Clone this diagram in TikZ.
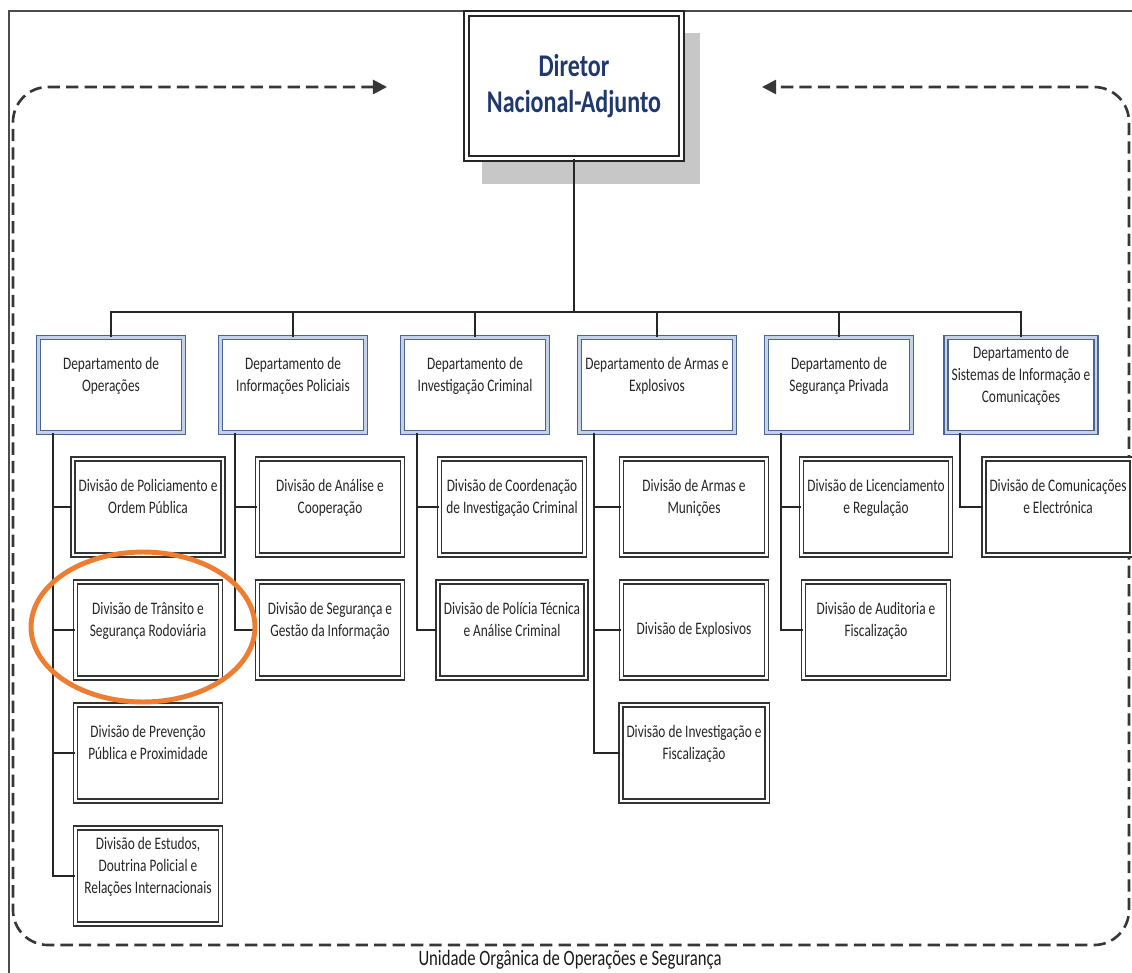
\documentclass[tikz,border=0pt]{standalone}
\usepackage{fontspec}
\setmainfont{Carlito}[FakeStretch=0.76]
\usetikzlibrary{arrows.meta}

\definecolor{navytext}{RGB}{31,56,110}
\definecolor{deptline}{RGB}{75,100,145}
\definecolor{deptgap}{RGB}{195,210,232}
\definecolor{ringorange}{RGB}{237,125,49}
\definecolor{unitgray}{RGB}{55,55,55}

% empty last line, lifts the text as in the chart
\newcommand{\padline}{\\\mbox{}}

\tikzset{
  dirbox/.style={draw=black!85,double=white,line width=1.1pt,double distance=1.3pt,
    fill=white,minimum width=4.3cm,minimum height=2.9cm,align=center,
    text=navytext,font=\fontsize{18}{20.5}\selectfont\bfseries},
  deptbox/.style={draw=deptline,double=deptgap,line width=1pt,double distance=1.3pt,
    fill=white,minimum width=2.9cm,minimum height=1.9cm,align=center,
    text=black!85,font=\fontsize{10}{12.5}\selectfont},
  divbox/.style={draw=black!80,double=white,line width=1pt,double distance=1.3pt,
    fill=white,minimum width=2.9cm,minimum height=1.92cm,align=center,
    text=black!85,font=\fontsize{10}{12.5}\selectfont},
  link/.style={draw=black!85,line width=1pt},
  unitline/.style={draw=unitgray,line width=1.5pt,dash pattern=on 7pt off 3.5pt,
    rounded corners=0.7cm}
}

\begin{document}
\begin{tikzpicture}[x=0.02cm,y=-0.02cm]
	\useasboundingbox (0,0) rectangle (1132,973);
	
	% frame
	\draw[black!70,line width=0.6pt] (1132,11) -- (9,11) -- (9,973);
	
	% unit contour
	\draw[unitline,{Triangle[length=8pt,width=8pt]}-{Triangle[length=8pt,width=8pt]}]
	(387,87) -- (13,87) -- (13,945) -- (1129,945) -- (1129,87) -- (762,87);
	\node[font=\fontsize{12.5}{14}\selectfont,text=black!90] (unitlbl) at (570,960)
	{Unidade Orgânica de Operações e Segurança};
	
	% director
	\fill[black!22] (482,33) rectangle (700,184);
	\node[dirbox] (dir) at (574,86) {Diretor\\Nacional-Adjunto};
	
	% departments
	\node[deptbox] (dOps) at (111,385) {Departamento de\\Operações\padline};
	\node[deptbox] (dInf) at (293,385) {Departamento de\\Informações Policiais\padline};
	\node[deptbox] (dInv) at (475,385) {Departamento de\\Investigação Criminal\padline};
	\node[deptbox] (dArm) at (657,385) {Departamento de Armas e\\Explosivos\padline};
	\node[deptbox] (dSeg) at (839,385) {Departamento de\\Segurança Privada\padline};
	\node[deptbox] (dSis) at (1021,385) {Departamento de\\Sistemas de Informação e\\Comunicações\padline};
	
	\coordinate (bus) at (574,312);
	\draw[link] (dir.south) -- (bus);
	\draw[link] (dOps.north) -- (dOps.north |- bus) -- (dSis.north |- bus) -- (dSis.north);
	\foreach \d in {dInf,dInv,dArm,dSeg}
	\draw[link] (\d.north) -- (\d.north |- bus);
	
	% divisions
	\node[divbox] (vOps1) at (148,507) {Divisão de Policiamento e\\Ordem Pública\padline};
	\node[divbox] (vOps2) at (148,630) {Divisão de Trânsito e\\Segurança Rodoviária\padline};
	\node[divbox] (vOps3) at (148,753) {Divisão de Prevenção\\Pública e Proximidade\padline};
	\node[divbox] (vOps4) at (148,876) {Divisão de Estudos,\\Doutrina Policial e\\Relações Internacionais\padline};
	
	\node[divbox] (vInf1) at (330,507) {Divisão de Análise e\\Cooperação\padline};
	\node[divbox] (vInf2) at (330,630) {Divisão de Segurança e\\Gestão da Informação\padline};
	
	\node[divbox] (vInv1) at (512,507) {Divisão de Coordenação\\de Investigação Criminal\padline};
	\node[divbox] (vInv2) at (512,630) {Divisão de Polícia Técnica\\e Análise Criminal\padline};
	
	\node[divbox] (vArm1) at (694,507) {Divisão de Armas e\\Munições\padline};
	\node[divbox] (vArm2) at (694,630) {Divisão de Explosivos};
	\node[divbox] (vArm3) at (694,753) {Divisão de Investigação e\\Fiscalização\padline};
	
	\node[divbox] (vSeg1) at (876,507) {Divisão de Licenciamento\\e Regulação\padline};
	\node[divbox] (vSeg2) at (876,630) {Divisão de Auditoria e\\Fiscalização\padline};
	
	\node[divbox] (vSis1) at (1058,507) {Divisão de Comunicações\\e Electrónica\padline};
	
	% department to division links
	\foreach \v in {vOps1,vOps2,vOps3,vOps4}
	\draw[link] ([xshift=0.3cm]dOps.south west) |- (\v.west);
	\foreach \v in {vInf1,vInf2}
	\draw[link] ([xshift=0.3cm]dInf.south west) |- (\v.west);
	\foreach \v in {vInv1,vInv2}
	\draw[link] ([xshift=0.3cm]dInv.south west) |- (\v.west);
	\foreach \v in {vArm1,vArm2,vArm3}
	\draw[link] ([xshift=0.3cm]dArm.south west) |- (\v.west);
	\foreach \v in {vSeg1,vSeg2}
	\draw[link] ([xshift=0.3cm]dSeg.south west) |- (\v.west);
	\draw[link] ([xshift=0.3cm]dSis.south west) |- (vSis1.west);
	
	% highlight
	\draw[ringorange,line width=2.8pt] (143,627) ellipse [x radius=2.24cm,y radius=1.5cm];
	
\end{tikzpicture}
\end{document}
